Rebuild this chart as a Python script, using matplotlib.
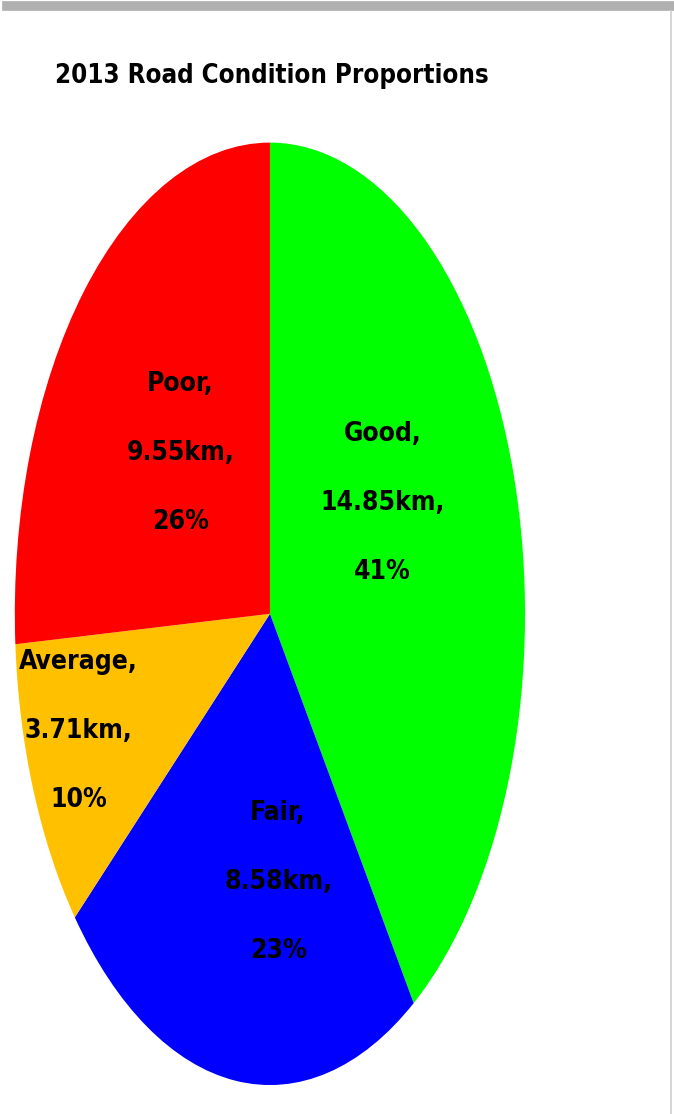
import numpy as np
import matplotlib.pyplot as plt
from matplotlib.lines import Line2D

# data
conditions = ['Good', 'Fair', 'Average', 'Poor']
lengths_km = [14.85, 8.58, 3.71, 9.55]
percent_labels = ['41%', '23%', '10%', '26%']
colors = ['#00FF00', '#0000FF', '#FFC000', '#FF0000']

# label placement (radius, angle nudge in degrees)
label_dist = [0.5, 0.57, 0.79, 0.49]
label_nudge = [11, 11, -3.5, -1]

fig = plt.figure(figsize=(6.74, 11.14), dpi=100)
fig.patch.set_facecolor('white')

# frame bits from the screenshot
fig.add_artist(Line2D([0.01, 1.0], [0.995, 0.995], transform=fig.transFigure,
                      color='#b0b0b0', lw=7))
fig.add_artist(Line2D([0.996, 0.996], [0.0, 0.99], transform=fig.transFigure,
                      color='#d0d0d0', lw=1.2))

ax = fig.add_axes([0.022, 0.026, 0.757, 0.846])
wedges, _ = ax.pie(lengths_km, colors=colors, startangle=90, counterclock=False,
                   radius=1.0, wedgeprops=dict(linewidth=0))
ax.set_xlim(-1, 1)
ax.set_ylim(-1, 1)
ax.set_aspect('auto')
ax.axis('off')

for w, name, km, pct, d, nd in zip(wedges, conditions, lengths_km, percent_labels,
                                    label_dist, label_nudge):
    ang = np.deg2rad((w.theta1 + w.theta2) / 2 + nd)
    ax.text(d * np.cos(ang), d * np.sin(ang), f'{name},\n{km:.2f}km,\n{pct}',
            ha='center', va='center', fontsize=19, fontweight='bold',
            family='DejaVu Sans', fontstretch='condensed', linespacing=3.15,
            color='black')

fig.text(0.082, 0.932, '2013 Road Condition Proportions', ha='left', va='center',
         fontsize=18.5, fontweight='bold', family='DejaVu Sans',
         fontstretch='condensed', color='black')

fig.savefig('out.png', dpi=100, facecolor='white')
